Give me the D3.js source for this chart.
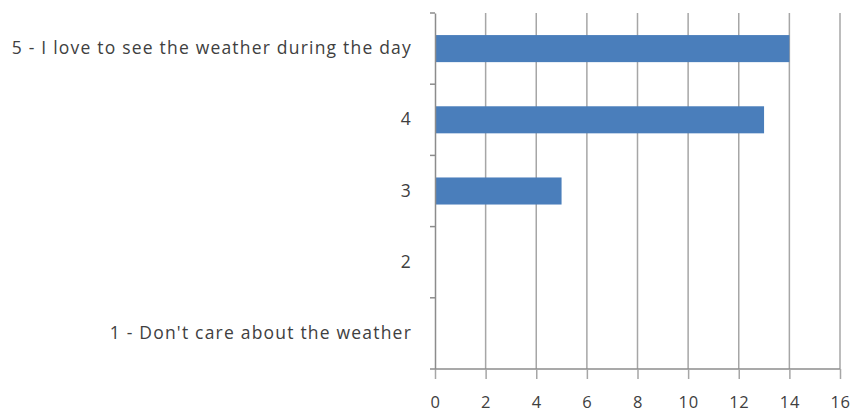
<!DOCTYPE html>
<html><head><meta charset="utf-8">
<script src="https://cdn.jsdelivr.net/npm/d3@7"></script>
<style>body{margin:0;background:#fff}svg text{font-family:"Open Sans",sans-serif;fill:#404040}</style>
</head><body><svg id="c" width="854" height="416"></svg>
<script>
const categories = ["5 - I love to see the weather during the day","4","3","2","1 - Don't care about the weather"];
const values = [14,13,5,0,0];
const xTicks = [0,2,4,6,8,10,12,14,16];

const svg = d3.select("#c");
const m = {left:435, right:840, top:13, bottom:369};
const x = d3.scaleLinear().domain([0,16]).range([m.left,m.right]);
const y = d3.scaleBand().domain(categories).range([m.top,m.bottom]);
const barH = y.bandwidth()*0.38;

// gridlines
svg.append("g").selectAll("line").data(xTicks.slice(1)).join("line")
  .attr("x1",d=>x(d)).attr("x2",d=>x(d)).attr("y1",m.top).attr("y2",m.bottom)
  .attr("stroke","#a6a6a6").attr("stroke-width",1.5);

// bars
svg.append("g").selectAll("rect").data(values).join("rect")
  .attr("x",x(0)).attr("y",(d,i)=>y(categories[i])+(y.bandwidth()-barH)/2)
  .attr("width",d=>x(d)-x(0)).attr("height",barH).attr("fill","#4a7ebb");

// x axis
const xa = svg.append("g").attr("transform",`translate(0,${m.bottom})`)
  .call(d3.axisBottom(x).tickValues(xTicks).tickSize(10).tickPadding(17));
xa.select(".domain").attr("stroke","#8c8c8c").attr("stroke-width",1.5).attr("d",`M${m.left-5},0H${m.right}`);
xa.selectAll(".tick line").attr("stroke","#a6a6a6").attr("stroke-width",1.5);
xa.selectAll("text").attr("font-size",16.5).attr("letter-spacing",0.6).attr("fill","#404040");

// y axis
const ya = svg.append("g").attr("transform",`translate(${m.left},0)`)
  .call(d3.axisLeft(y).tickSize(0).tickPadding(23));
ya.select(".domain").attr("stroke","#8c8c8c").attr("stroke-width",1.5);
ya.selectAll("text").attr("font-size",17.5).attr("letter-spacing",1.2).attr("fill","#404040");
// category boundary ticks
svg.append("g").selectAll("line").data(categories).join("line")
  .attr("x1",m.left-5).attr("x2",m.left).attr("y1",d=>y(d)).attr("y2",d=>y(d))
  .attr("stroke","#8c8c8c").attr("stroke-width",1.5);
</script></body></html>
